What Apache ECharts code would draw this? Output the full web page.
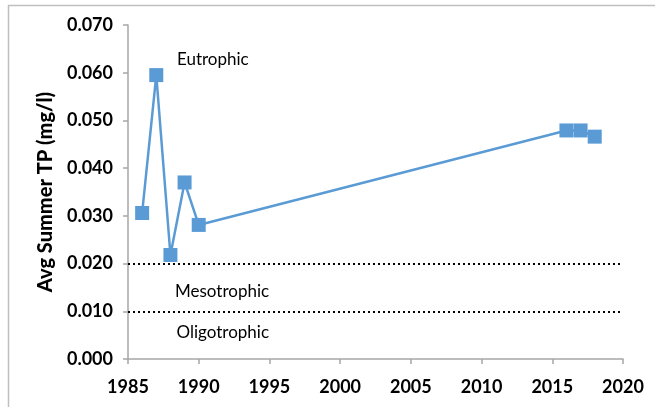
<!DOCTYPE html>
<html>
<head>
<meta charset="utf-8">
<script src="https://cdn.jsdelivr.net/npm/echarts@6/dist/echarts.min.js"></script>
<style>
  html, body { margin: 0; padding: 0; background: #fff; }
  #chart { width: 655px; height: 407px; }
</style>
</head>
<body>
<div id="chart"></div>
<script>
// summer TP data
const years = [1986, 1987, 1988, 1989, 1990, 2016, 2017, 2018]
const tpValues = [0.0306, 0.0595, 0.0218, 0.0370, 0.0281, 0.0479, 0.0479, 0.0466]

// trophic boundaries (dotted lines)
const boundaryValues = [0.020, 0.010]

// zone labels and where they sit in data space
const zoneNames = ['Eutrophic', 'Mesotrophic', 'Oligotrophic']
const zoneYears = [1991.0, 1991.65, 1991.7]
const zoneValues = [0.0628, 0.0141, 0.0055]

const FONT = 'Lato, "Liberation Sans", sans-serif'
const BLUE = '#5b9bd5'
const AXIS_GREY = '#a6a6a6'

const chart = echarts.init(document.getElementById('chart'))

const option = {
  animation: false,
  grid: {
    left: 128,
    right: 32,
    top: 25,
    bottom: 48
  },
  graphic: [
    {
      // outer frame, only top and left edges show in the picture
      type: 'polyline',
      shape: { points: [[8.5, 420], [8.5, 5.5], [660, 5.5]] },
      style: { stroke: '#bfbfbf', lineWidth: 1.5, fill: null },
      silent: true
    }
  ],
  xAxis: {
    type: 'value',
    min: 1985,
    max: 2020,
    interval: 5,
    axisLine: { show: true, lineStyle: { color: AXIS_GREY, width: 1.5 } },
    axisTick: { show: true, length: 5, lineStyle: { color: AXIS_GREY, width: 1.5 } },
    splitLine: { show: false },
    axisLabel: {
      margin: 19,
      color: '#000',
      fontFamily: FONT,
      fontWeight: 'bold',
      fontSize: 18,
      formatter: (v) => String(v)
    }
  },
  yAxis: {
    type: 'value',
    min: 0,
    max: 0.07,
    interval: 0.01,
    name: 'Avg Summer TP (mg/l)',
    nameLocation: 'middle',
    nameGap: 72,
    nameTextStyle: {
      color: '#000',
      fontFamily: FONT,
      fontWeight: 900,
      fontSize: 20
    },
    axisLine: { show: true, lineStyle: { color: AXIS_GREY, width: 1.5 } },
    axisTick: { show: true, length: 5, lineStyle: { color: AXIS_GREY, width: 1.5 } },
    splitLine: { show: false },
    axisLabel: {
      margin: 15,
      color: '#000',
      fontFamily: FONT,
      fontWeight: 'bold',
      fontSize: 18,
      formatter: (v) => v.toFixed(3)
    }
  },
  series: [
    {
      name: 'Boundaries',
      type: 'line',
      data: [],
      silent: true,
      markLine: {
        silent: true,
        symbol: 'none',
        label: { show: false },
        lineStyle: { color: '#000', type: [2, 3], width: 2 },
        data: boundaryValues.map((v) => ({ yAxis: v }))
      },
      markPoint: {
        silent: true,
        symbol: 'circle',
        symbolSize: 0,
        label: {
          show: true,
          position: 'inside',
          color: '#000',
          fontFamily: FONT,
          fontSize: 17,
          formatter: (p) => p.name
        },
        data: zoneNames.map((name, i) => ({ name: name, coord: [zoneYears[i], zoneValues[i]] }))
      }
    },
    {
      name: 'TP',
      type: 'line',
      data: years.map((y, i) => [y, tpValues[i]]),
      symbol: 'rect',
      symbolSize: 14,
      showAllSymbol: true,
      itemStyle: { color: BLUE },
      lineStyle: { color: BLUE, width: 2.5 },
      z: 5
    }
  ]
}

chart.setOption(option)
</script>
</body>
</html>
